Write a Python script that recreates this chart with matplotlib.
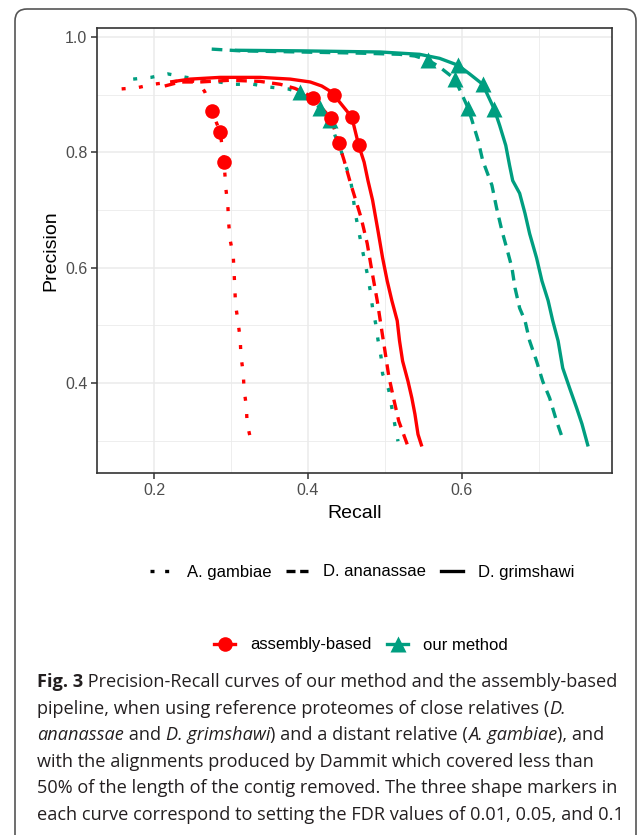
import matplotlib
matplotlib.use('Agg')
import matplotlib.pyplot as plt
from matplotlib.lines import Line2D
from matplotlib.patches import FancyBboxPatch

plt.rcParams['font.family'] = ['Liberation Sans', 'DejaVu Sans']

# Precision-recall curves, assembly-based pipeline (red) vs our method (teal)
RED = '#FF0000'
TEAL = '#009E80'

# assembly-based, A. gambiae reference
ag_asm_recall = [0.158, 0.178, 0.199, 0.222, 0.243, 0.258, 0.266, 0.275, 0.286, 0.291,
                 0.2935, 0.296, 0.297, 0.299, 0.303, 0.304, 0.305, 0.306, 0.309, 0.312,
                 0.313, 0.316, 0.317, 0.320, 0.321, 0.326]
ag_asm_prec = [0.910, 0.912, 0.918, 0.922, 0.925, 0.922, 0.905, 0.871, 0.836, 0.784,
               0.736, 0.707, 0.678, 0.648, 0.620, 0.594, 0.565, 0.536, 0.508, 0.477,
               0.447, 0.417, 0.390, 0.359, 0.330, 0.300]

# assembly-based, D. ananassae reference
an_asm_recall = [0.214, 0.234, 0.260, 0.299, 0.338, 0.364, 0.383, 0.396, 0.4065, 0.430,
                 0.440, 0.447, 0.455, 0.469, 0.477, 0.483, 0.490, 0.495, 0.500, 0.505,
                 0.512, 0.518, 0.530]
an_asm_prec = [0.915, 0.922, 0.922, 0.925, 0.923, 0.918, 0.911, 0.903, 0.894, 0.859,
               0.816, 0.786, 0.748, 0.687, 0.642, 0.595, 0.543, 0.499, 0.456, 0.412,
               0.369, 0.334, 0.290]

# assembly-based, D. grimshawi reference
gr_asm_recall = [0.221, 0.247, 0.286, 0.338, 0.377, 0.403, 0.418, 0.429, 0.434, 0.457,
                 0.466, 0.473, 0.478, 0.484, 0.491, 0.497, 0.503, 0.509, 0.516, 0.519,
                 0.523, 0.530, 0.535, 0.539, 0.543, 0.548]
gr_asm_prec = [0.922, 0.927, 0.930, 0.930, 0.927, 0.922, 0.915, 0.906, 0.899, 0.861,
               0.812, 0.783, 0.751, 0.717, 0.664, 0.617, 0.577, 0.543, 0.508, 0.473,
               0.438, 0.403, 0.374, 0.346, 0.311, 0.290]

# our method, A. gambiae reference
ag_our_recall = [0.173, 0.196, 0.218, 0.242, 0.284, 0.306, 0.329, 0.351, 0.374, 0.390,
                 0.416, 0.429, 0.435, 0.443, 0.449, 0.455, 0.458, 0.461, 0.465, 0.469,
                 0.473, 0.477, 0.481, 0.484, 0.488, 0.491, 0.495, 0.497, 0.505, 0.509,
                 0.513, 0.517]
ag_our_prec = [0.927, 0.930, 0.936, 0.930, 0.922, 0.918, 0.918, 0.913, 0.910, 0.904,
               0.877, 0.856, 0.830, 0.803, 0.777, 0.755, 0.730, 0.699, 0.670, 0.643,
               0.616, 0.590, 0.560, 0.530, 0.503, 0.475, 0.445, 0.416, 0.388, 0.357,
               0.327, 0.299]

# our method, D. ananassae reference
an_our_recall = [0.275, 0.312, 0.390, 0.468, 0.519, 0.539, 0.556, 0.571, 0.591, 0.608,
                 0.613, 0.621, 0.627, 0.639, 0.645, 0.652, 0.658, 0.665, 0.669, 0.675,
                 0.682, 0.688, 0.697, 0.705, 0.714, 0.723, 0.732]
an_our_prec = [0.979, 0.976, 0.974, 0.972, 0.970, 0.967, 0.960, 0.948, 0.927, 0.877,
               0.856, 0.821, 0.786, 0.743, 0.704, 0.664, 0.635, 0.600, 0.565, 0.530,
               0.508, 0.473, 0.438, 0.403, 0.374, 0.334, 0.299]

# our method, D. grimshawi reference
gr_our_recall = [0.305, 0.390, 0.494, 0.545, 0.571, 0.595, 0.610, 0.627, 0.642, 0.649,
                 0.657, 0.662, 0.666, 0.675, 0.682, 0.688, 0.697, 0.704, 0.712, 0.718,
                 0.725, 0.731, 0.740, 0.749, 0.756, 0.764]
gr_our_prec = [0.977, 0.976, 0.974, 0.970, 0.963, 0.951, 0.936, 0.918, 0.875, 0.847,
               0.812, 0.777, 0.751, 0.729, 0.694, 0.659, 0.617, 0.577, 0.543, 0.508,
               0.473, 0.426, 0.391, 0.357, 0.329, 0.290]

# points at FDR 0.01, 0.05, 0.1
ag_asm_fdr_recall = [0.275, 0.286, 0.291]
ag_asm_fdr_prec = [0.871, 0.836, 0.784]
an_asm_fdr_recall = [0.4065, 0.430, 0.440]
an_asm_fdr_prec = [0.894, 0.859, 0.816]
gr_asm_fdr_recall = [0.434, 0.457, 0.466]
gr_asm_fdr_prec = [0.899, 0.861, 0.812]
ag_our_fdr_recall = [0.390, 0.416, 0.429]
ag_our_fdr_prec = [0.904, 0.877, 0.856]
an_our_fdr_recall = [0.556, 0.591, 0.608]
an_our_fdr_prec = [0.960, 0.927, 0.877]
gr_our_fdr_recall = [0.595, 0.627, 0.642]
gr_our_fdr_prec = [0.951, 0.918, 0.875]

species = ['A. gambiae', 'D. ananassae', 'D. grimshawi']
methods = ['assembly-based', 'our method']

caption = [
    [('Fig. 3', 'bold'), (' Precision-Recall curves of our method and the assembly-based', 'normal')],
    [('pipeline, when using reference proteomes of close relatives (', 'normal'), ('D.', 'italic')],
    [('ananassae', 'italic'), (' and ', 'normal'), ('D. grimshawi', 'italic'),
     (') and a distant relative (', 'normal'), ('A. gambiae', 'italic'), ('), and', 'normal')],
    [('with the alignments produced by Dammit which covered less than', 'normal')],
    [('50% of the length of the contig removed. The three shape markers in', 'normal')],
    [('each curve correspond to setting the FDR values of 0.01, 0.05, and 0.1', 'normal')],
]

LW = 2.4
DOTTED = (1.2, 4.0)
DASHED = (3.2, 2.2)
# shorter pattern so the legend key shows two full dashes
styles = [(1.2, 3.2), (2.7, 1.4), None]

W, H = 639, 835
fig = plt.figure(figsize=(W / 100, H / 100), dpi=100)

# rounded frame around figure + caption, open at the bottom
frame = FancyBboxPatch((0.15, -0.5), 6.21, 8.76,
                       boxstyle='round,pad=0,rounding_size=0.12',
                       transform=fig.dpi_scale_trans, fill=False,
                       edgecolor='#555555', linewidth=1.2)
fig.add_artist(frame)

ax = fig.add_axes([97 / W, 1 - 473 / H, (612 - 97) / W, (473 - 28) / H])

curves = [
    (ag_asm_recall, ag_asm_prec, RED, DOTTED),
    (an_asm_recall, an_asm_prec, RED, DASHED),
    (gr_asm_recall, gr_asm_prec, RED, None),
    (ag_our_recall, ag_our_prec, TEAL, DOTTED),
    (an_our_recall, an_our_prec, TEAL, DASHED),
    (gr_our_recall, gr_our_prec, TEAL, None),
]
for x, y, col, dash in curves:
    zo = 2 if col == TEAL else 3
    line, = ax.plot(x, y, color=col, lw=LW, solid_capstyle='butt', zorder=zo)
    if dash is not None:
        line.set_dashes(dash)
        line.set_dash_capstyle('butt')

for x, y in [(ag_our_fdr_recall, ag_our_fdr_prec), (an_our_fdr_recall, an_our_fdr_prec),
             (gr_our_fdr_recall, gr_our_fdr_prec)]:
    ax.plot(x, y, ls='none', marker='^', ms=11, color=TEAL, mec='none', zorder=4)
for x, y in [(ag_asm_fdr_recall, ag_asm_fdr_prec), (an_asm_fdr_recall, an_asm_fdr_prec),
             (gr_asm_fdr_recall, gr_asm_fdr_prec)]:
    ax.plot(x, y, ls='none', marker='o', ms=10.5, color=RED, mec='none', zorder=5)

ax.set_xlim(0.126, 0.795)
ax.set_ylim(0.244, 1.0156)
ax.set_xticks([0.2, 0.4, 0.6])
ax.set_xticks([0.3, 0.5, 0.7], minor=True)
ax.set_yticks([0.4, 0.6, 0.8, 1.0])
ax.set_yticks([0.3, 0.5, 0.7, 0.9], minor=True)
ax.set_xticklabels(['0.2', '0.4', '0.6'])
ax.set_yticklabels(['0.4', '0.6', '0.8', '1.0'])
ax.grid(True, which='major', color='#EBEBEB', lw=1.1)
ax.grid(True, which='minor', color='#EBEBEB', lw=0.6)
ax.set_axisbelow(True)
for s in ax.spines.values():
    s.set_color('#333333')
    s.set_linewidth(1.2)
ax.tick_params(which='major', length=4, width=1.1, color='#333333',
               labelsize=11.5, labelcolor='#4D4D4D', pad=3)
ax.tick_params(which='minor', length=0)
ax.set_xlabel('Recall', fontsize=14, labelpad=5)
ax.set_ylabel('Precision', fontsize=14, labelpad=4)

# linetype legend
lt_handles = [Line2D([], [], color='black', lw=LW, dash_capstyle='butt') for _ in species]
for h, d in zip(lt_handles, styles):
    if d is not None:
        h.set_dashes(d)
fig.legend(lt_handles, species, loc='center', bbox_to_anchor=(362 / W, 1 - 572 / H),
           ncol=3, frameon=False, fontsize=12, handlelength=1.3,
           handletextpad=0.9, columnspacing=0.9)

# method legend
m_handles = [Line2D([], [], color=RED, lw=LW, marker='o', ms=10.5, mec='none'),
             Line2D([], [], color=TEAL, lw=LW, marker='^', ms=11, mec='none')]
fig.legend(m_handles, methods, loc='center', bbox_to_anchor=(361 / W, 1 - 645 / H),
           ncol=2, frameon=False, fontsize=12, handlelength=1.3,
           handletextpad=0.9, columnspacing=0.9)

# caption, drawn piece by piece so bold/italic can share a line
fig.canvas.draw()
renderer = fig.canvas.get_renderer()
y0 = 682
for k, parts in enumerate(caption):
    xpx = 37
    ypx = y0 + k * 26.6
    for txt, style in parts:
        t = fig.text(xpx / W, 1 - ypx / H, txt, fontsize=13.1, family='Open Sans',
                     weight='bold' if style == 'bold' else 'normal',
                     style='italic' if style == 'italic' else 'normal',
                     va='center', ha='left', color='#231F20')
        bb = t.get_window_extent(renderer)
        xpx += bb.width

fig.savefig('out.png', dpi=100)
